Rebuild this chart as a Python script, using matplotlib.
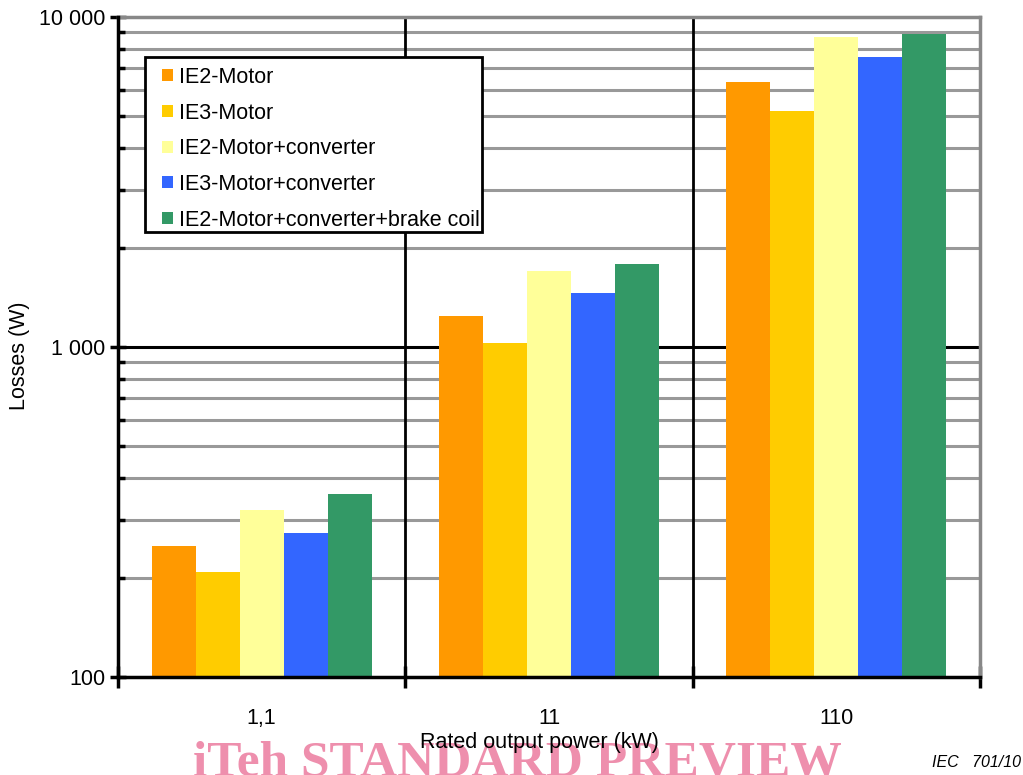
import numpy as np
from matplotlib import pyplot as plt
from matplotlib.patches import Rectangle
from matplotlib.ticker import FixedLocator, NullFormatter

plt.rcParams['font.family'] = ['Liberation Sans', 'DejaVu Sans']

# данные
categories = ['1,1', '11', '110']
series_names = ['IE2-Motor', 'IE3-Motor', 'IE2-Motor+converter', 'IE3-Motor+converter',
                'IE2-Motor+converter+brake coil']
ie2_motor = [250, 1240, 6370]
ie3_motor = [208, 1028, 5200]
ie2_conv = [320, 1700, 8700]
ie3_conv = [274, 1455, 7570]
ie2_conv_brake = [359, 1780, 8890]
series = [ie2_motor, ie3_motor, ie2_conv, ie3_conv, ie2_conv_brake]
colors = ['#FF9900', '#FFCC00', '#FFFF99', '#3366FF', '#339966']
ytick_values = [100, 1000, 10000]
ytick_labels = ['100', '1 000', '10 000']

fs = 15.5
W, H = 1023, 775

fig = plt.figure(figsize=(W / 100, H / 100), dpi=100)
ax = fig.add_axes([118 / W, 1 - 677 / H, (980 - 118) / W, (677 - 17) / H])

x = np.arange(len(categories))
width = 0.153
for i, (vals, name, col) in enumerate(zip(series, series_names, colors)):
    ax.bar(x + (i - 2) * width, vals, width, color=col, label=name, zorder=3)

ax.set_yscale('log')
ax.set_ylim(100, 10000)
ax.set_xlim(-0.5, 2.5)

# сетка
minor_vals = [m * 10 ** e for e in (2, 3) for m in range(2, 10)]
for v in minor_vals:
    ax.axhline(v, color='#999999', linewidth=2.2, zorder=1)
ax.axhline(1000, color='black', linewidth=2.2, zorder=2)
for b in (0.5, 1.5):
    ax.axvline(b, color='black', linewidth=2, zorder=2)

ax.yaxis.set_major_locator(FixedLocator(ytick_values))
ax.set_yticklabels(ytick_labels, fontsize=fs)
ax.yaxis.set_minor_locator(FixedLocator(minor_vals))
ax.yaxis.set_minor_formatter(NullFormatter())
ax.tick_params(axis='y', which='major', direction='inout', length=12, width=2.5, pad=3)
ax.tick_params(axis='y', which='minor', direction='in', length=5, width=2.5)

ax.set_xticks(x)
ax.set_xticklabels(categories, fontsize=fs)
ax.xaxis.set_minor_locator(FixedLocator([-0.5, 0.5, 1.5, 2.5]))
ax.tick_params(axis='x', which='major', length=0, pad=22)
ax.tick_params(axis='x', which='minor', direction='inout', length=16, width=2.5)

for side in ('left', 'bottom'):
    ax.spines[side].set_linewidth(2.5)
    ax.spines[side].set_zorder(5)
for side in ('top', 'right'):
    ax.spines[side].set_color('#888888')
    ax.spines[side].set_linewidth(2.5)

ax.set_ylabel('Losses (W)', fontsize=fs)
ax.yaxis.set_label_coords((30 - 118) / 862, (677 - 356) / 660)
ax.set_xlabel('Rated output power (kW)', fontsize=fs)
ax.xaxis.set_label_coords((539 - 118) / 862, (677 - 732) / 660)

# рамка легенды отдельно, чтобы отступы были как в оригинале
frame = Rectangle((145 / W, 1 - 232 / H), (482 - 145) / W, (232 - 57) / H, transform=fig.transFigure,
                  facecolor='white', edgecolor='black', linewidth=2, zorder=6)
ax.add_patch(frame)
leg = ax.legend(loc='upper left', bbox_to_anchor=(162 / W, 1 - 67 / H), bbox_transform=fig.transFigure,
                fontsize=fs, frameon=False, handlelength=0.5, handleheight=0.5,
                handletextpad=0.3, labelspacing=0.68, borderpad=0, borderaxespad=0)
leg.set_zorder(7)

# водяной знак под подписью оси
fig.text(517 / W, -1 / H, 'iTeh STANDARD PREVIEW', fontsize=37, fontweight='bold',
         family=['Liberation Serif', 'DejaVu Serif'], color='#EE8FAD', ha='center', va='baseline',
         zorder=-1)
fig.text(0.911, 0.006, 'IEC   701/10', fontsize=11.5, style='italic', ha='left', va='bottom')

fig.savefig('out.png', dpi=100)
